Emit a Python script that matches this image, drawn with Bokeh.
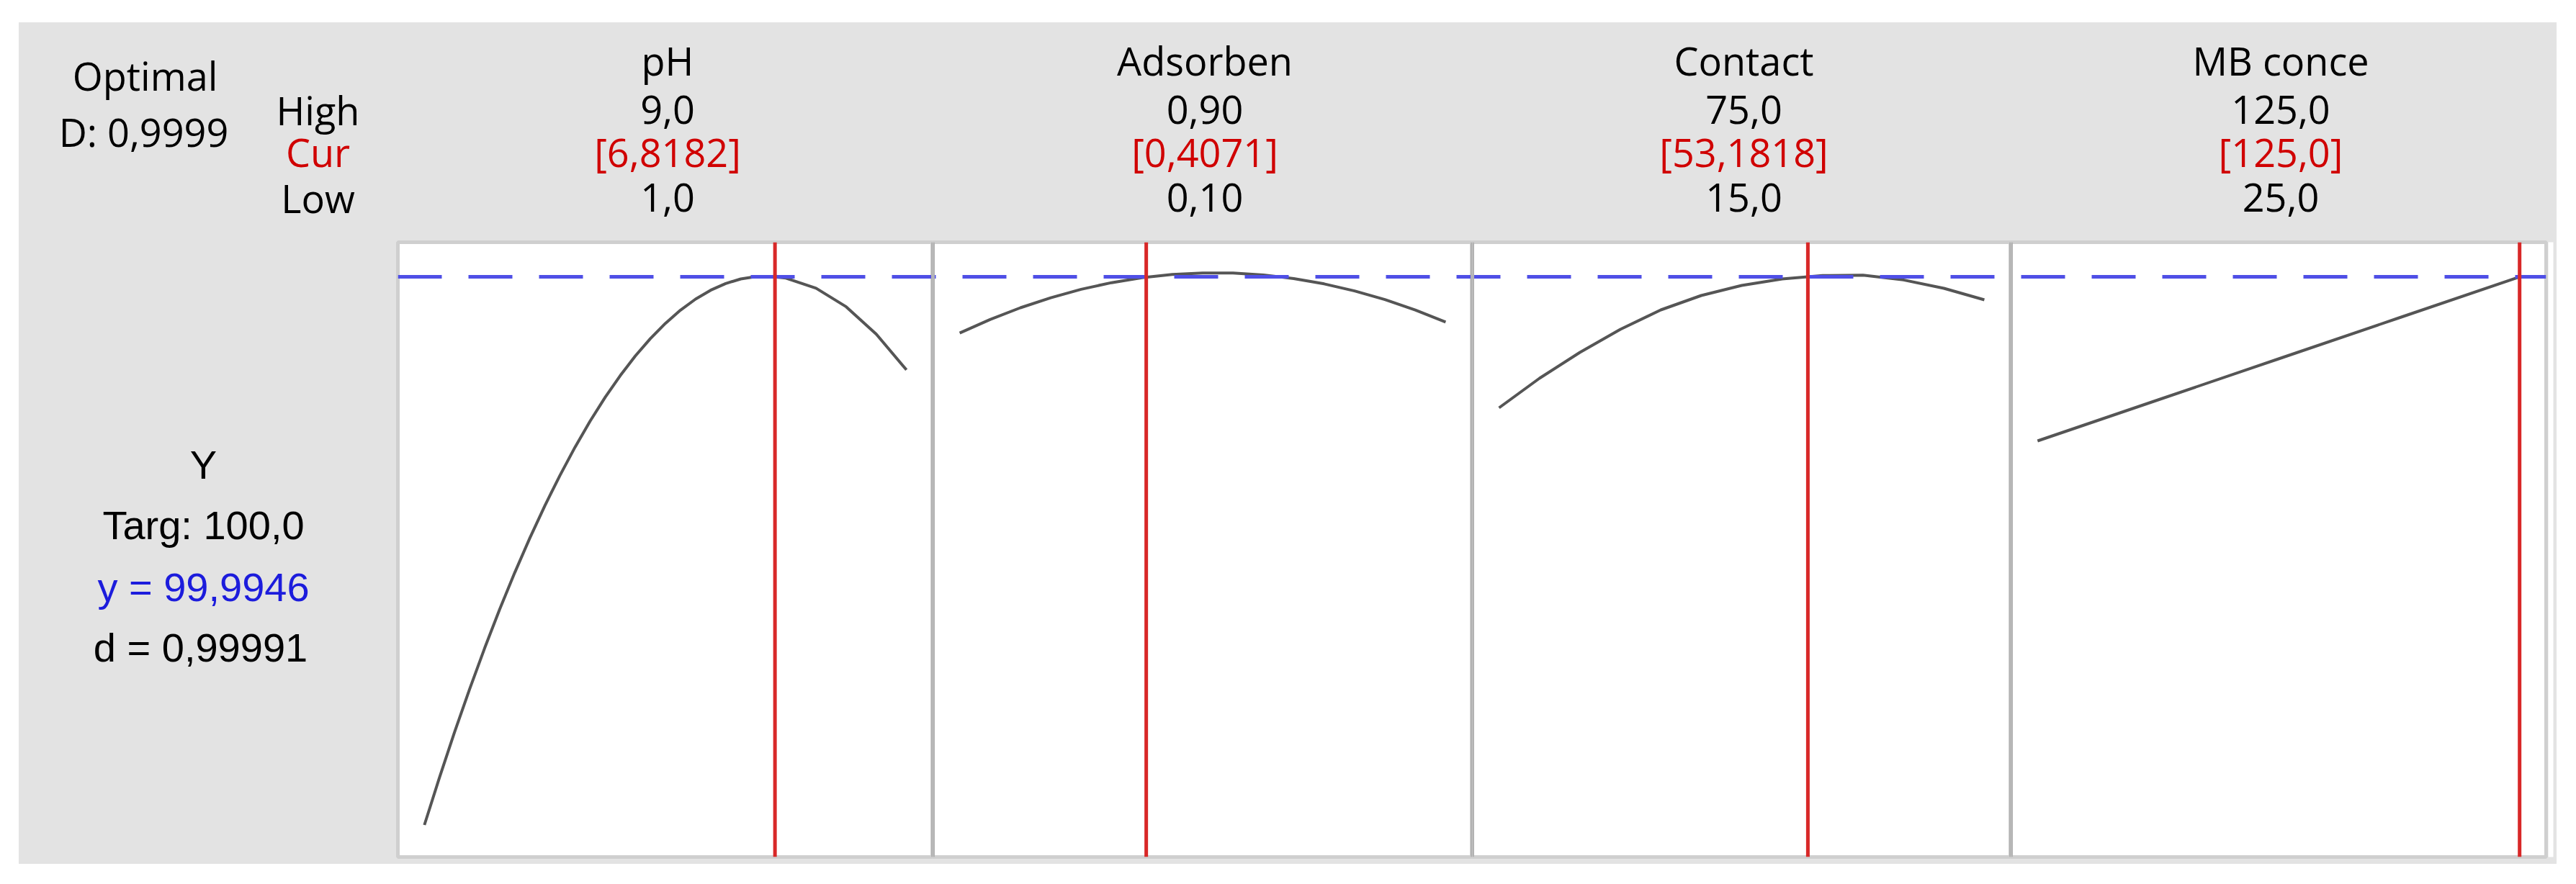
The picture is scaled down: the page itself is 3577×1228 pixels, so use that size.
from bokeh.plotting import figure
from bokeh.models import Range1d, Span, Label, Spacer
from bokeh.layouts import row, column
from bokeh.embed import file_html
from bokeh.resources import INLINE

# ---------------- data ----------------
factors = ["pH", "Adsorben", "Contact", "MB conce"]
low_vals = [1.0, 0.10, 15.0, 25.0]
high_vals = [9.0, 0.90, 75.0, 125.0]
cur_vals = [6.8182, 0.4071, 53.1818, 125.0]
high_labels = ["9,0", "0,90", "75,0", "125,0"]
cur_labels = ["[6,8182]", "[0,4071]", "[53,1818]", "[125,0]"]
low_labels = ["1,0", "0,10", "15,0", "25,0"]

ph_x = [1.0, 1.25, 1.5, 1.75, 2.0, 2.25, 2.5, 2.75, 3.0, 3.25, 3.5, 3.75, 4.0, 4.25, 4.5, 4.75,
        5.0, 5.25, 5.5, 5.75, 6.0, 6.25, 6.5, 6.8182, 7.0, 7.5, 8.0, 8.5, 9.0]
ph_y = [54.31, 58.26, 62.04, 65.63, 69.05, 72.29, 75.35, 78.23, 80.93, 83.45, 85.80, 87.97,
        89.96, 91.76, 93.40, 94.85, 96.12, 97.22, 98.14, 98.88, 99.44, 99.82, 100.02, 99.99,
        99.89, 99.05, 97.50, 95.22, 92.24]

ads_x = [0.10, 0.15, 0.20, 0.25, 0.30, 0.35, 0.40, 0.45, 0.50, 0.55, 0.60, 0.65, 0.70, 0.75, 0.80, 0.85, 0.90]
ads_y = [95.31, 96.44, 97.42, 98.25, 98.96, 99.51, 99.92, 100.19, 100.32, 100.31, 100.15, 99.85, 99.41,
         98.82, 98.10, 97.23, 96.23]

ct_x = [15, 20, 25, 30, 35, 40, 45, 50, 55, 60, 65, 70, 75]
ct_y = [89.08, 91.54, 93.70, 95.62, 97.24, 98.44, 99.28, 99.82, 100.10, 100.14, 99.74, 99.04, 98.08]

mb_x = [25, 50, 75, 100, 125]
mb_y = [86.32, 89.74, 93.16, 96.58, 99.99]

curve_x = [ph_x, ads_x, ct_x, mb_x]
curve_y = [ph_y, ads_y, ct_y, mb_y]

resp_name = "Y"
target_text = "Targ: 100,0"
pred_text = "y = 99,9946"
d_text = "d = 0,99991"
optimal_text = "Optimal"
D_text = "D: 0,9999"
y_pred = 99.9946

# ---------------- layout / style ----------------
GRAY = "#e3e3e3"
ORIGIN_X, ORIGIN_Y = 26, 31          # top-left of the gray block on the page
HEAD_H = 302                         # header strip height
LOW_H = 867                          # lower strip height
TOP = 3
BOTTOM = 10
FRAME_H = LOW_H - TOP - BOTTOM
FRAME_TOP_ABS = ORIGIN_Y + HEAD_H + TOP
FRAME_BOT_ABS = FRAME_TOP_ABS + FRAME_H
Y_START, Y_END = 51.64, 102.88
PAD = 0.055
LW = 523
RW = 12
frame_widths = [743, 749, 748, 743]
DASH_PERIOD = 98
TOTAL_W = LW + 3 + sum(frame_widths) + 3 + RW

HEAD_FONT = "Open Sans"
HEAD_SIZE = "54px"
SIDE_FONT = "Liberation Sans"
SIDE_SIZE = "56px"
RED_TXT = "#d00000"
RED_LINE = "#d82828"
BLUE_LINE = "#4f4fe6"
BLUE_TXT = "#1c1cdc"
SEP = "#b2b2b2"

# vertical centres (page pixels) of the text rows
ROW_NAME, ROW_HIGH, ROW_CUR, ROW_LOW = 83, 152, 210, 274


def base_fig(w, h, **kw):
    f = figure(width=w, height=h, x_axis_type=None, y_axis_type=None, title=None,
               toolbar_location=None, output_backend="svg", **kw)
    f.grid.visible = False
    return f


# ---- header strip (texts above the panels) ----
header = base_fig(TOTAL_W, HEAD_H, x_range=Range1d(0, TOTAL_W), y_range=Range1d(0, HEAD_H),
                  min_border=0, background_fill_color=GRAY, border_fill_color=GRAY,
                  outline_line_color=None)


def hlab(txt, xa, ya, col="black", font=HEAD_FONT, size=HEAD_SIZE):
    header.add_layout(Label(x=xa - ORIGIN_X, y=ORIGIN_Y + HEAD_H - ya, text=txt,
                            text_align="center", text_baseline="middle",
                            text_font=font, text_font_size=size, text_color=col))


hlab(optimal_text, 201, 104)
hlab(D_text, 199, 182)
hlab("High", 441, ROW_HIGH)
hlab("Cur", 441, ROW_CUR, RED_TXT)
hlab("Low", 441, ROW_LOW)

left_edge = ORIGIN_X + LW + 3
for i in range(4):
    xc = left_edge + frame_widths[i] / 2 + 3
    hlab(factors[i], xc, ROW_NAME)
    hlab(high_labels[i], xc, ROW_HIGH)
    hlab(cur_labels[i], xc, ROW_CUR, RED_TXT)
    hlab(low_labels[i], xc, ROW_LOW)
    left_edge += frame_widths[i]

# ---- left info panel of lower strip ----
left = base_fig(LW, LOW_H, x_range=Range1d(0, LW), y_range=Range1d(0, FRAME_H),
                min_border_top=TOP, min_border_bottom=BOTTOM, min_border_left=0,
                min_border_right=0, background_fill_color=GRAY, border_fill_color=GRAY,
                outline_line_color=None)


def llab(txt, xa, ya, col="black"):
    left.add_layout(Label(x=xa - ORIGIN_X, y=FRAME_BOT_ABS - ya, text=txt, text_align="center",
                          text_baseline="middle", text_font=SIDE_FONT,
                          text_font_size=SIDE_SIZE, text_color=col))


llab(resp_name, 282, 645)
llab(target_text, 282, 729)
llab(pred_text, 282, 815, BLUE_TXT)
llab(d_text, 278, 899)

# ---- the four factor panels ----
panels = []
x_off = 0
for i in range(4):
    lo, hi = low_vals[i], high_vals[i]
    rng = hi - lo
    mbl = 3 if i == 0 else 0
    mbr = 3 if i == 3 else 0
    x0, x1 = lo - PAD * rng, hi + PAD * rng
    p = base_fig(frame_widths[i] + mbl + mbr, LOW_H,
                 x_range=Range1d(x0, x1), y_range=Range1d(Y_START, Y_END),
                 min_border_top=TOP, min_border_bottom=BOTTOM,
                 min_border_left=mbl, min_border_right=mbr,
                 background_fill_color="white", border_fill_color=GRAY,
                 outline_line_color="#cfcfcf", outline_line_width=5)
    p.line(curve_x[i], curve_y[i], line_color="#555555", line_width=4)
    p.add_layout(Span(location=y_pred, dimension="width", line_color=BLUE_LINE,
                      line_width=5, line_dash="61 37",
                      line_dash_offset=x_off % DASH_PERIOD))
    if i > 0:
        p.add_layout(Span(location=x0, dimension="height", line_color=SEP, line_width=5))
    if i < 3:
        p.add_layout(Span(location=x1, dimension="height", line_color=SEP, line_width=5))
    p.add_layout(Span(location=cur_vals[i], dimension="height", line_color=RED_LINE, line_width=5))
    panels.append(p)
    x_off += frame_widths[i]

# thin strip right of the last panel: white inside, gray margin outside
right = base_fig(RW, LOW_H, min_border_top=TOP, min_border_bottom=BOTTOM, min_border_left=0,
                 min_border_right=5, background_fill_color="white", border_fill_color=GRAY,
                 outline_line_color=None)

block = column(header, row(left, *panels, right, styles={"background-color": GRAY}),
               styles={"background-color": GRAY})
layout = column(Spacer(width=10, height=ORIGIN_Y),
                row(Spacer(width=ORIGIN_X, height=HEAD_H + LOW_H), block))

open("out.html", "w").write(file_html(layout, INLINE))
